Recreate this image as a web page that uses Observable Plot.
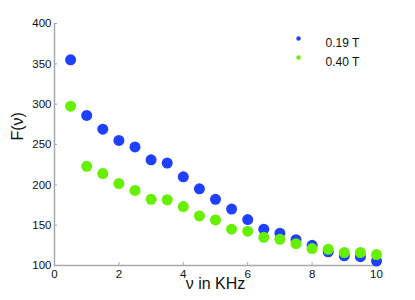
<!DOCTYPE html>
<html>
<head>
<meta charset="utf-8">
<script src="https://cdn.jsdelivr.net/npm/d3@7"></script>
<script src="https://cdn.jsdelivr.net/npm/@observablehq/plot@0.6"></script>
<style>
  html, body { margin: 0; padding: 0; background: #fff; }
</style>
</head>
<body>
<div id="chart"></div>
<script>
const freq = [0.5, 1, 1.5, 2, 2.5, 3, 3.5, 4, 4.5, 5, 5.5, 6, 6.5, 7, 7.5, 8, 8.5, 9, 9.5, 10];
const f019 = [355, 286, 269, 255, 247, 231, 227, 210, 195, 182, 170, 157, 145, 140, 132, 125, 117, 112, 111, 105.5];
const f040 = [297.5, 223, 214, 201.5, 193, 182, 181.5, 173, 161.5, 156.5, 145, 142.5, 135, 132.5, 127, 121, 120, 116, 116, 113.5];
const seriesNames = ["0.19 T", "0.40 T"];
const seriesColors = ["#1f40ff", "#64f000"];
const xTicks = [0, 2, 4, 6, 8, 10];
const yTicks = [100, 150, 200, 250, 300, 350, 400];

const data = [];
seriesNames.forEach((name, i) => {
  const vals = i === 0 ? f019 : f040;
  freq.forEach((f, j) => data.push({series: name, freq: f, value: vals[j]}));
});

const font = "Liberation Sans, Arial, Helvetica, sans-serif";
const axisGray = "#a8a8a8";

const legendMarks = seriesNames.flatMap((name, i) => [
  Plot.dot([name], {frameAnchor: "top-right", dx: -78, dy: 15 + 19 * i, fill: (d) => d, r: 2.2, stroke: null}),
  Plot.text([name], {frameAnchor: "top-right", dx: -51, dy: 15 + 19 * i, text: (d) => d, textAnchor: "start", fontSize: 12, fill: "#111"})
]);

const chart = Plot.plot({
  width: 415,
  height: 300,
  marginLeft: 54,
  marginRight: 39,
  marginTop: 23,
  marginBottom: 35,
  style: {fontFamily: font, fontSize: "11px", color: "#111", background: "#fff"},
  x: {domain: [0, 10], ticks: xTicks},
  y: {domain: [100, 400], ticks: yTicks},
  color: {domain: seriesNames, range: seriesColors},
  marks: [
    Plot.ruleX([0], {stroke: axisGray, strokeWidth: 1.5}),
    Plot.ruleY([100], {stroke: axisGray, strokeWidth: 1.5}),
    Plot.axisX(xTicks, {tickSize: -3, tickPadding: 7, stroke: axisGray, fill: "#111", fontSize: 11.5, label: null}),
    Plot.axisY(yTicks, {tickSize: -3, tickPadding: 6, stroke: axisGray, fill: "#111", fontSize: 11.5, label: null}),
    Plot.dot(data, {x: "freq", y: "value", fill: "series", r: 5.5, stroke: null}),
    ...legendMarks,
    Plot.text(["F(ν)"], {frameAnchor: "left", dx: -37, dy: -4, rotate: -90, fontSize: 16, fill: "#111"}),
    Plot.text(["ν in KHz"], {frameAnchor: "bottom", dy: 23, fontSize: 16, fill: "#111"})
  ]
});
document.getElementById("chart").appendChild(chart);
</script>
</body>
</html>
